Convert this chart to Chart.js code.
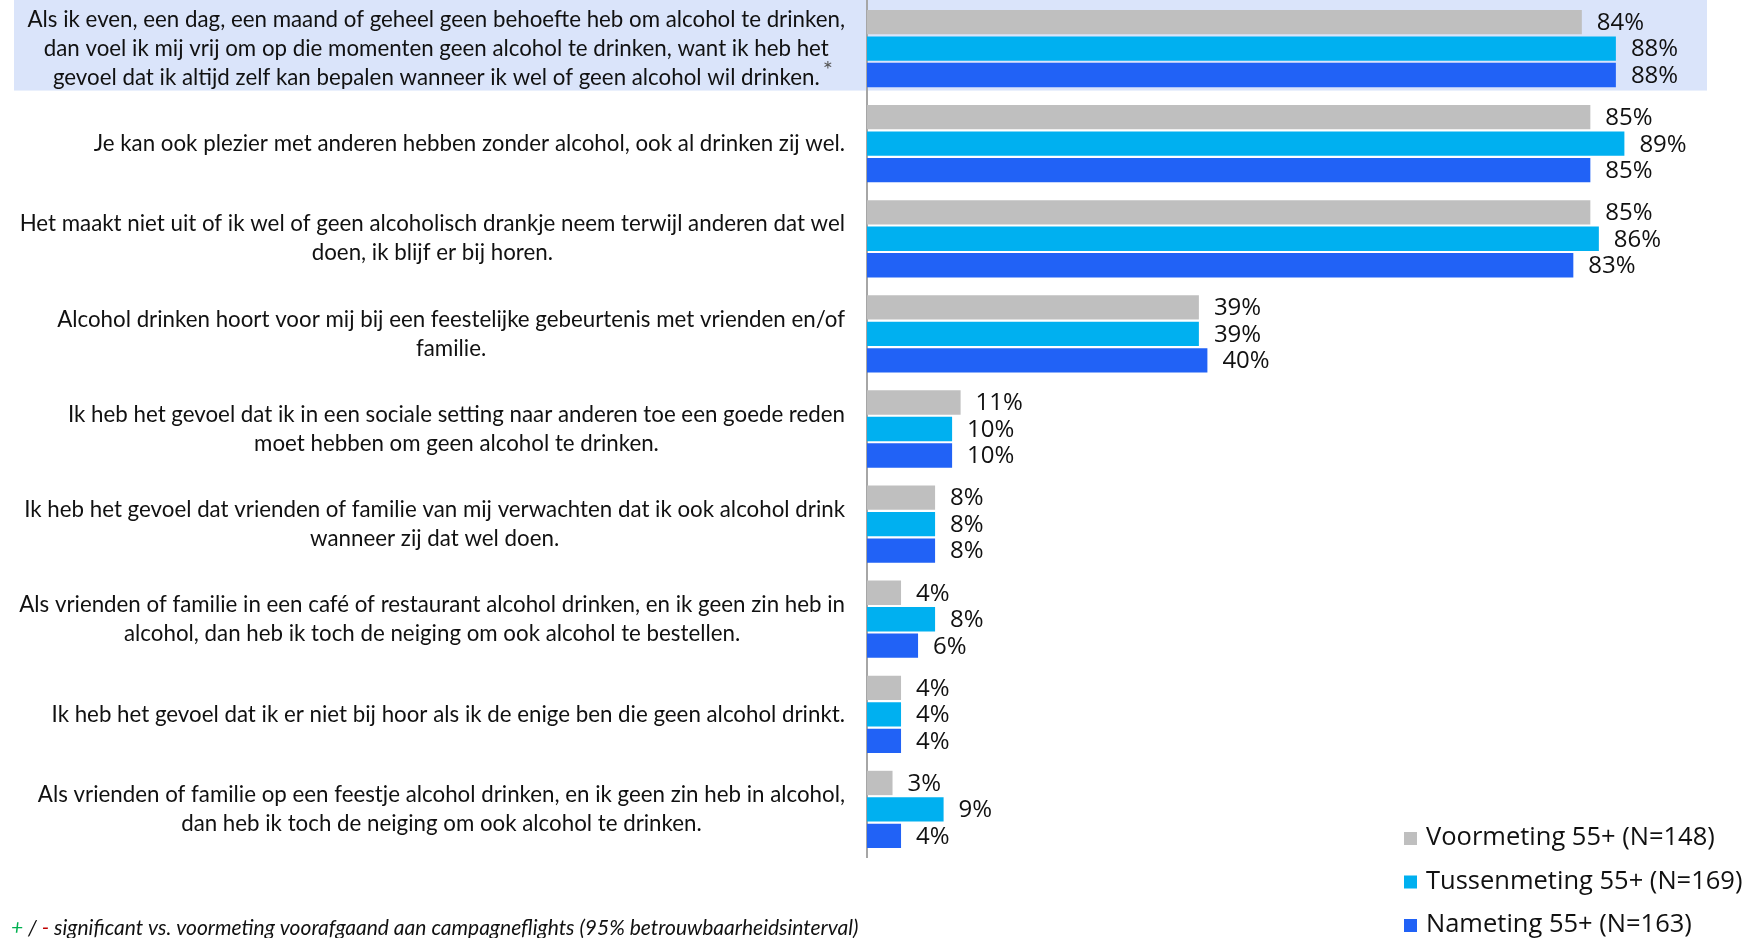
<!DOCTYPE html>
<html><head><meta charset="utf-8">
<script src="https://cdn.jsdelivr.net/npm/chart.js@4.4.1/dist/chart.umd.min.js"></script>
<style>html,body{margin:0;padding:0;background:#fff;}#wrap{position:relative;width:1747px;height:938px;}</style>
</head><body><div id="wrap"><canvas id="c" width="1747" height="938"></canvas></div>
<script>
const categories = [
  ["Als ik even, een dag, een maand of geheel geen behoefte heb om alcohol te drinken,", "dan voel ik mij vrij om op die momenten geen alcohol te drinken, want ik heb het", "gevoel dat ik altijd zelf kan bepalen wanneer ik wel of geen alcohol wil drinken."],
  ["Je kan ook plezier met anderen hebben zonder alcohol, ook al drinken zij wel."],
  ["Het maakt niet uit of ik wel of geen alcoholisch drankje neem terwijl anderen dat wel", "doen, ik blijf er bij horen."],
  ["Alcohol drinken hoort voor mij bij een feestelijke gebeurtenis met vrienden en/of", "familie."],
  ["Ik heb het gevoel dat ik in een sociale setting naar anderen toe een goede reden", "moet hebben om geen alcohol te drinken."],
  ["Ik heb het gevoel dat vrienden of familie van mij verwachten dat ik ook alcohol drink", "wanneer zij dat wel doen."],
  ["Als vrienden of familie in een café of restaurant alcohol drinken, en ik geen zin heb in", "alcohol, dan heb ik toch de neiging om ook alcohol te bestellen."],
  ["Ik heb het gevoel dat ik er niet bij hoor als ik de enige ben die geen alcohol drinkt."],
  ["Als vrienden of familie op een feestje alcohol drinken, en ik geen zin heb in alcohol,", "dan heb ik toch de neiging om ook alcohol te drinken."]
];
const voormeting   = [84, 85, 85, 39, 11, 8, 4, 4, 3];
const tussenmeting = [88, 89, 86, 39, 10, 8, 8, 4, 9];
const nameting     = [88, 85, 83, 40, 10, 8, 6, 4, 4];
const seriesNames  = ["Voormeting 55+ (N=148)", "Tussenmeting 55+ (N=169)", "Nameting 55+ (N=163)"];
const footnote = "significant vs. voormeting voorafgaand aan campagneflights (95% betrouwbaarheidsinterval)";

const colors = ['#BFBFBF', '#00B0F0', '#2162F6'];

const bgPlugin = {
  id: 'bg',
  beforeDraw(chart) {
    const c = chart.ctx;
    c.save();
    c.fillStyle = '#fff';
    c.fillRect(0, 0, chart.width, chart.height);
    const y = chart.scales.y;
    const cy = y.getPixelForValue(0);
    c.fillStyle = '#DAE4FA';
    c.fillRect(14, 0, 1707 - 14, cy + 42);
    c.restore();
  }
};

const valueLabels = {
  id: 'valueLabels',
  afterDatasetsDraw(chart) {
    const c = chart.ctx;
    c.save();
    c.font = '24px "Open Sans"';
    c.fillStyle = '#111';
    c.textAlign = 'left';
    c.textBaseline = 'middle';
    chart.data.datasets.forEach((ds, di) => {
      const meta = chart.getDatasetMeta(di);
      meta.data.forEach((el, i) => {
        c.fillText(Math.round(ds.data[i]) + '%', el.x + 15, el.y + 1);
      });
    });
    c.restore();
  }
};

const catLabels = {
  id: 'catLabels',
  afterDraw(chart) {
    const c = chart.ctx;
    const y = chart.scales.y;
    const R = 845, lh = 29;
    c.save();
    c.font = '22.3px Lato';
    c.fillStyle = '#111';
    c.textBaseline = 'middle';
    c.textAlign = 'center';
    categories.forEach((lines, i) => {
      const cy = y.getPixelForValue(i);
      const widths = lines.map(l => c.measureText(l).width);
      const bw = Math.max(...widths);
      const cx = R - bw / 2;
      lines.forEach((l, k) => {
        const ly = cy + (k - (lines.length - 1) / 2) * lh;
        c.fillText(l, cx, ly);
        if (i === 0 && k === lines.length - 1) {
          c.save();
          c.font = '24px Lato';
          c.fillStyle = '#555';
          c.textAlign = 'left';
          c.fillText('*', cx + widths[k] / 2 + 3, ly - 7);
          c.restore();
        }
      });
    });
    // legend
    c.font = '25.5px "Open Sans"';
    c.textAlign = 'left';
    chart.data.datasets.forEach((ds, i) => {
      const ly = 838 + i * 43.5;
      c.fillStyle = ds.backgroundColor;
      c.fillRect(1404, ly - 6, 13, 13);
      c.fillStyle = '#111';
      c.fillText(ds.label, 1426, ly);
    });
    // footnote
    c.font = 'italic 21px Lato';
    let x = 11; const fy = 928;
    c.fillStyle = '#00B050'; c.fillText('+', x, fy); x += c.measureText('+ ').width;
    c.fillStyle = '#111'; c.fillText('/', x, fy); x += c.measureText('/ ').width;
    c.fillStyle = '#C00000'; c.fillText('-', x, fy); x += c.measureText('- ').width;
    c.fillStyle = '#111'; c.fillText(footnote, x, fy);
    c.restore();
  }
};

new Chart(document.getElementById('c'), {
  type: 'bar',
  data: {
    labels: categories.map(l => l.join(' ')),
    datasets: [
      { label: seriesNames[0], data: voormeting, backgroundColor: colors[0] },
      { label: seriesNames[1], data: tussenmeting, backgroundColor: colors[1] },
      { label: seriesNames[2], data: nameting, backgroundColor: colors[2] }
    ]
  },
  options: {
    indexAxis: 'y',
    responsive: false,
    animation: false,
    datasets: { bar: { categoryPercentage: 0.835, barPercentage: 0.92, borderWidth: 0 } },
    layout: { padding: { top: 1, right: 29, bottom: 81, left: 0 } },
    scales: {
      x: { display: false, min: 0, max: 100 },
      y: {
        ticks: { display: false },
        grid: { display: false, drawTicks: false },
        border: { display: true, color: '#A6A6A6', width: 2 },
        afterFit(s) { s.width = 867; }
      }
    },
    plugins: { legend: { display: false }, tooltip: { enabled: false } }
  },
  plugins: [bgPlugin, valueLabels, catLabels]
});
</script></body></html>
